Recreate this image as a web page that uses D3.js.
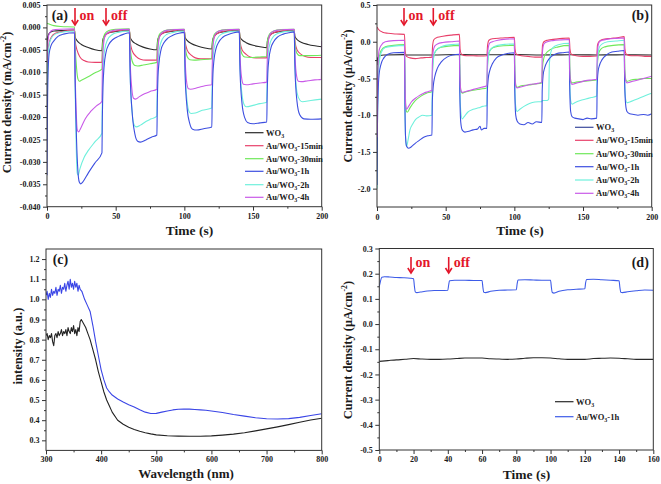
<!DOCTYPE html>
<html><head><meta charset="utf-8">
<script src="https://cdn.jsdelivr.net/npm/d3@7"></script>
<style>body{margin:0;background:#fff}svg{display:block}text{font-family:"Liberation Serif","Times New Roman",serif;font-weight:bold;fill:#1a1a1a}</style>
</head><body><svg id="c" width="661" height="484"></svg>
<script>
// ---------- Panel (a) data: time (s), current density (mA/cm^-2)
const aXTicks = [0, 50, 100, 150, 200];
const aYTicks = [0.005, 0, -0.005, -0.010, -0.015, -0.020, -0.025, -0.030, -0.035, -0.040];
const aNames = ["WO3", "Au/WO3-15min", "Au/WO3-30min", "Au/WO3-1h", "Au/WO3-2h", "Au/WO3-4h"];
const aWO3 = [[0,-0.0045],[0.5,-0.0022],[2,-0.0012],[5,-0.0008],[12,-0.0007],[20,-0.0006],
[20.5,-0.0022],[22,-0.003],[25,-0.0038],[30,-0.0045],[35,-0.005],[40,-0.0052],
[40.5,-0.003],[42,-0.0018],[45,-0.0012],[50,-0.0009],[60,-0.0007],
[60.5,-0.0022],[62,-0.003],[65,-0.0037],[70,-0.0044],[75,-0.0048],[80,-0.005],
[80.5,-0.003],[82,-0.0018],[85,-0.0012],[90,-0.0009],[100,-0.0007],
[100.5,-0.0022],[102,-0.0029],[105,-0.0036],[110,-0.0042],[115,-0.0046],[120,-0.0048],
[120.5,-0.003],[122,-0.0018],[125,-0.0012],[130,-0.0009],[140,-0.0007],
[140.5,-0.0021],[142,-0.0028],[145,-0.0034],[150,-0.004],[155,-0.0043],[160,-0.0045],
[160.5,-0.003],[162,-0.0018],[165,-0.0012],[170,-0.0009],[180,-0.0007],
[180.5,-0.002],[182,-0.0027],[185,-0.0033],[190,-0.0038],[195,-0.0041],[200,-0.0043]];
const a15min = [[0,-0.012],[0.5,-0.006],[2,-0.003],[5,-0.0015],[10,-0.001],[20,-0.0006],
[20.5,-0.003],[22,-0.0052],[24,-0.0066],[27,-0.0074],[30,-0.0077],[35,-0.0078],[40,-0.0078],
[40.5,-0.004],[42,-0.002],[45,-0.0012],[50,-0.0008],[60,-0.0005],
[60.5,-0.003],[62,-0.0052],[65,-0.0065],[68,-0.0071],[72,-0.0073],[80,-0.0073],
[80.5,-0.004],[82,-0.002],[85,-0.0012],[90,-0.0008],[100,-0.0005],
[100.5,-0.003],[102,-0.005],[105,-0.0062],[108,-0.0068],[112,-0.007],[120,-0.007],
[120.5,-0.004],[122,-0.002],[125,-0.0012],[130,-0.0008],[140,-0.0005],
[140.5,-0.003],[142,-0.005],[145,-0.006],[148,-0.0066],[152,-0.0068],[160,-0.0068],
[160.5,-0.004],[162,-0.002],[165,-0.0012],[170,-0.0008],[180,-0.0005],
[180.5,-0.003],[182,-0.005],[185,-0.006],[188,-0.0065],[192,-0.0067],[200,-0.0067]];
const a30min = [[0,0.0009],[1,0.0008],[5,0.0004],[10,0.0002],[20,0.0001],
[20.5,-0.004],[21.5,-0.009],[22.5,-0.0115],[23.5,-0.012],[25,-0.0118],[30,-0.011],[35,-0.0101],[40,-0.0093],
[40.5,-0.004],[42,-0.0015],[45,-0.0007],[50,-0.0004],[60,-0.0003],
[60.5,-0.004],[62,-0.0075],[64,-0.0085],[66,-0.0086],[70,-0.0084],[75,-0.0081],[80,-0.0078],
[80.5,-0.0035],[82,-0.0015],[85,-0.0008],[90,-0.0005],[100,-0.0004],
[100.5,-0.0035],[102,-0.0065],[104,-0.0072],[107,-0.0073],[112,-0.0072],[120,-0.007],
[120.5,-0.0035],[122,-0.0015],[125,-0.0008],[130,-0.0005],[140,-0.0004],
[140.5,-0.0035],[142,-0.006],[144,-0.0066],[148,-0.0067],[155,-0.0066],[160,-0.0065],
[160.5,-0.003],[162,-0.0015],[165,-0.0008],[170,-0.0005],[180,-0.0004],
[180.5,-0.0035],[182,-0.0058],[184,-0.0063],[190,-0.0063],[200,-0.0062]];
const a1h = [[0,-0.033],[0.3,-0.02],[0.8,-0.01],[1.5,-0.006],[3,-0.004],[5,-0.003],[8,-0.002],[12,-0.0015],[20,-0.0012],
[20.5,-0.012],[21.5,-0.025],[22.5,-0.032],[23.5,-0.0345],[24.5,-0.0349],[26,-0.0345],[30,-0.0325],[35,-0.0302],[40,-0.028],
[40.3,-0.02],[40.8,-0.013],[41.5,-0.009],[43,-0.0055],[45,-0.0038],[48,-0.0027],[52,-0.002],[56,-0.0015],[60,-0.0012],
[60.5,-0.01],[62,-0.019],[64,-0.0238],[66,-0.0254],[68,-0.0256],[72,-0.0251],[76,-0.0245],[80,-0.024],
[80.3,-0.017],[80.8,-0.011],[81.5,-0.008],[83,-0.005],[85,-0.0035],[88,-0.0024],[92,-0.0017],[96,-0.0013],[100,-0.0011],
[100.5,-0.01],[102,-0.018],[104,-0.0215],[106,-0.0227],[109,-0.0229],[114,-0.0226],[120,-0.0222],
[120.3,-0.016],[120.8,-0.0105],[121.5,-0.0075],[123,-0.0048],[125,-0.0033],[128,-0.0022],[132,-0.0016],[136,-0.0012],[140,-0.001],
[140.5,-0.0095],[142,-0.017],[144,-0.0202],[146,-0.0212],[150,-0.0215],[155,-0.0213],[160,-0.0211],
[160.3,-0.015],[160.8,-0.01],[161.5,-0.0072],[163,-0.0046],[165,-0.0032],[168,-0.0021],[172,-0.0015],[176,-0.0012],[180,-0.001],
[180.5,-0.009],[182,-0.0165],[184,-0.0195],[187,-0.0204],[192,-0.0205],[200,-0.0204]];
const a2h = [[0,-0.02],[0.5,-0.008],[1.5,-0.004],[3,-0.0025],[6,-0.0015],[12,-0.001],[20,-0.0008],
[20.5,-0.014],[21.3,-0.027],[22,-0.0325],[22.7,-0.033],[24,-0.0315],[27,-0.029],[30,-0.0275],[35,-0.0255],[40,-0.0236],
[40.3,-0.015],[41,-0.008],[42,-0.005],[44,-0.0028],[47,-0.0017],[52,-0.0011],[60,-0.0008],
[60.5,-0.01],[62,-0.019],[63.5,-0.0218],[65,-0.0222],[68,-0.0218],[72,-0.021],[76,-0.0204],[80,-0.0198],
[80.3,-0.013],[81,-0.007],[82,-0.0045],[84,-0.0026],[87,-0.0016],[92,-0.0011],[100,-0.0008],
[100.5,-0.009],[102,-0.0165],[103.5,-0.0188],[105,-0.0192],[108,-0.0191],[113,-0.0185],[120,-0.018],
[120.3,-0.012],[121,-0.0065],[122,-0.0042],[124,-0.0025],[127,-0.0015],[132,-0.001],[140,-0.0008],
[140.5,-0.0085],[142,-0.015],[143.5,-0.0172],[145,-0.0177],[150,-0.0174],[155,-0.017],[160,-0.0167],
[160.3,-0.011],[161,-0.006],[162,-0.004],[164,-0.0024],[167,-0.0015],[172,-0.001],[180,-0.0008],
[180.5,-0.008],[182,-0.0145],[184,-0.0162],[186,-0.0166],[192,-0.0163],[200,-0.016]];
const a4h = [[0,-0.008],[0.5,-0.004],[1.5,-0.0015],[4,-0.0006],[10,-0.0004],[20,-0.0003],
[20.5,-0.01],[21.3,-0.019],[22,-0.0228],[23,-0.0233],[25,-0.0222],[28,-0.0203],[32,-0.0187],[36,-0.0175],[40,-0.0165],
[40.3,-0.01],[41,-0.0045],[42,-0.0022],[44,-0.0012],[48,-0.0007],[53,-0.0005],[60,-0.0004],
[60.5,-0.007],[61.8,-0.0138],[63,-0.0158],[64.5,-0.016],[67,-0.0155],[71,-0.0148],[75,-0.0143],[80,-0.0138],
[80.3,-0.009],[81,-0.004],[82,-0.002],[84,-0.0011],[88,-0.0006],[93,-0.0005],[100,-0.0004],
[100.5,-0.0065],[101.8,-0.0125],[103,-0.0137],[104.5,-0.0138],[110,-0.0134],[115,-0.013],[120,-0.0128],
[120.3,-0.0085],[121,-0.0038],[122,-0.0019],[124,-0.001],[128,-0.0006],[133,-0.0005],[140,-0.0004],
[140.5,-0.006],[141.8,-0.0115],[143,-0.0127],[145,-0.0128],[150,-0.0126],[155,-0.0124],[160,-0.0122],
[160.3,-0.008],[161,-0.0036],[162,-0.0018],[164,-0.001],[168,-0.0006],[173,-0.0005],[180,-0.0004],
[180.5,-0.006],[181.8,-0.011],[183,-0.012],[185,-0.0121],[190,-0.0119],[195,-0.0117],[199.7,-0.0116],[200,-0.003]];

// ---------- Panel (b) data: time (s), current density (uA/cm^-2)
const bXTicks = [0, 50, 100, 150, 200];
const bYTicks = [0.5, 0.0, -0.5, -1.0, -1.5, -2.0];
const bWO3 = [[0,-0.32],[0.5,-0.22],[2,-0.19],[5,-0.18],[20,-0.175],[20.5,-0.18],[40,-0.18],[60,-0.175],[80,-0.178],[100,-0.175],[120,-0.18],[140,-0.178],[160,-0.18],[180,-0.178],[200,-0.18]];
const b15min = [[0,0.2],[1,0.17],[4,0.13],[8,0.115],[14,0.105],[20,0.1],
[20.5,-0.12],[21.5,-0.2],[24,-0.22],[28,-0.23],[32,-0.22],[36,-0.215],[40,-0.21],
[40.5,-0.05],[41.5,0.03],[44,0.06],[48,0.075],[54,0.09],[60,0.1],
[60.5,-0.1],[61.5,-0.17],[65,-0.19],[70,-0.19],[75,-0.195],[80,-0.19],
[80.5,-0.05],[81.5,0.02],[84,0.04],[90,0.05],[95,0.055],[100,0.06],
[100.5,-0.1],[101.5,-0.17],[105,-0.19],[110,-0.2],[115,-0.21],[120,-0.21],
[120.5,-0.05],[121.5,0.0],[124,0.02],[130,0.035],[135,0.045],[140,0.05],
[140.5,-0.1],[141.5,-0.17],[145,-0.19],[150,-0.2],[155,-0.2],[160,-0.195],
[160.5,-0.05],[161.5,0.0],[164,0.03],[170,0.045],[175,0.055],[180,0.07],
[180.5,-0.1],[181.5,-0.17],[185,-0.19],[190,-0.19],[195,-0.2],[200,-0.2]];
const b30min = [[0,-0.85],[0.5,-0.5],[1.5,-0.25],[3,-0.12],[6,-0.07],[12,-0.05],[20,-0.04],
[20.5,-0.6],[21.2,-0.93],[22,-0.96],[24,-0.9],[28,-0.8],[32,-0.74],[36,-0.7],[40,-0.68],
[40.5,-0.35],[41.5,-0.18],[43,-0.12],[46,-0.08],[52,-0.06],[60,-0.05],
[60.5,-0.5],[61.2,-0.68],[62,-0.7],[65,-0.68],[70,-0.66],[75,-0.645],[80,-0.63],
[80.5,-0.3],[81.5,-0.15],[83,-0.1],[86,-0.07],[92,-0.055],[100,-0.05],
[100.5,-0.45],[101.2,-0.6],[102,-0.62],[105,-0.6],[110,-0.59],[115,-0.575],[120,-0.56],
[120.5,-0.35],[121.5,-0.22],[123,-0.16],[126,-0.11],[132,-0.07],[140,-0.05],
[140.5,-0.4],[141.2,-0.54],[142,-0.56],[145,-0.55],[150,-0.54],[155,-0.53],[160,-0.52],
[160.5,-0.3],[161.5,-0.15],[163,-0.1],[166,-0.07],[172,-0.05],[180,-0.04],
[180.5,-0.4],[181.2,-0.52],[182,-0.54],[185,-0.52],[190,-0.51],[195,-0.5],[200,-0.5]];
const b1h = [[0,-1.95],[0.3,-1.2],[0.8,-0.7],[1.5,-0.45],[3,-0.3],[5,-0.22],[8,-0.17],[12,-0.15],[20,-0.145],
[20.3,-0.8],[20.8,-1.3],[21.5,-1.42],[23,-1.45],[25,-1.43],[28,-1.38],[31,-1.34],[34,-1.3],[37,-1.28],[40,-1.27],
[40.3,-0.8],[41,-0.6],[42,-0.48],[44,-0.36],[47,-0.27],[51,-0.21],[55,-0.18],[60,-0.17],
[60.3,-0.7],[61,-1.1],[62,-1.2],[64,-1.23],[67,-1.22],[70,-1.2],[73,-1.19],[75,-1.15],[76,-1.2],[78,-1.18],[80,-1.18],
[80.3,-0.7],[81,-0.5],[82,-0.4],[84,-0.3],[87,-0.22],[91,-0.18],[95,-0.16],[100,-0.15],
[100.3,-0.65],[101,-1.0],[102,-1.08],[104,-1.12],[107,-1.13],[110,-1.1],[113,-1.12],[116,-1.09],[120,-1.1],
[120.3,-0.65],[121,-0.45],[122,-0.36],[124,-0.27],[127,-0.2],[131,-0.16],[135,-0.15],[140,-0.14],
[140.3,-0.6],[141,-0.95],[142,-1.02],[144,-1.04],[147,-1.05],[150,-1.06],[153,-1.04],[156,-1.05],[160,-1.04],
[160.3,-0.6],[161,-0.4],[162,-0.32],[164,-0.24],[167,-0.18],[171,-0.14],[175,-0.13],[180,-0.12],
[180.3,-0.55],[181,-0.85],[182,-0.95],[184,-0.98],[187,-0.99],[190,-1.0],[194,-0.99],[197,-1.0],[200,-0.98]];
const b2h = [[0,-2.0],[0.3,-1.2],[0.8,-0.6],[1.5,-0.3],[3,-0.15],[6,-0.08],[12,-0.06],[20,-0.05],
[20.3,-0.8],[20.8,-1.3],[21.5,-1.43],[22.5,-1.35],[24,-1.2],[26,-1.12],[28,-1.06],[31,-1.02],[33,-1.0],[36,-1.01],[40,-1.0],
[40.3,-0.5],[41,-0.25],[42,-0.15],[44,-0.1],[48,-0.06],[54,-0.04],[60,-0.03],
[60.3,-0.6],[61,-0.95],[62,-1.05],[63.5,-1.02],[66,-0.96],[70,-0.92],[74,-0.9],[77,-0.88],[80,-0.87],
[80.3,-0.45],[81,-0.22],[82,-0.13],[84,-0.08],[88,-0.05],[94,-0.035],[100,-0.03],
[100.3,-0.55],[101,-0.88],[102,-0.95],[104,-0.92],[107,-0.88],[111,-0.84],[115,-0.82],[120,-0.815],
[120.3,-0.8],[124,-0.8],[125,-0.78],[125.5,-0.3],[126.5,-0.15],[128,-0.08],[132,-0.04],[140,-0.02],
[140.3,-0.5],[141,-0.8],[142,-0.85],[144,-0.83],[148,-0.8],[152,-0.78],[156,-0.76],[160,-0.74],
[160.3,-0.35],[161,-0.15],[162,-0.07],[164,-0.03],[168,0.0],[174,0.01],[180,0.02],
[180.3,-0.5],[181,-0.78],[182,-0.83],[184,-0.82],[188,-0.79],[192,-0.76],[196,-0.73],[200,-0.7]];
const b4h = [[0,-1.3],[0.3,-0.7],[0.8,-0.3],[1.5,-0.12],[3,-0.05],[6,0.0],[12,0.015],[20,0.02],
[20.3,-0.5],[20.8,-0.85],[21.5,-0.92],[23,-0.88],[25,-0.82],[28,-0.77],[31,-0.73],[34,-0.7],[37,-0.68],[40,-0.66],
[40.3,-0.3],[41,-0.12],[42,-0.06],[44,-0.03],[48,-0.01],[54,0.0],[60,0.01],
[60.3,-0.45],[61,-0.66],[62,-0.69],[64,-0.68],[68,-0.66],[72,-0.64],[76,-0.62],[80,-0.6],
[80.3,-0.25],[81,-0.08],[82,-0.02],[84,0.0],[88,0.02],[94,0.035],[100,0.04],
[100.3,-0.4],[101,-0.6],[102,-0.63],[104,-0.62],[108,-0.6],[112,-0.58],[116,-0.57],[120,-0.55],
[120.3,-0.2],[121,-0.06],[122,-0.02],[124,0.0],[128,0.015],[134,0.025],[140,0.03],
[140.3,-0.38],[141,-0.55],[142,-0.58],[144,-0.57],[148,-0.55],[152,-0.53],[156,-0.52],[160,-0.51],
[160.3,-0.2],[161,-0.05],[162,0.0],[164,0.02],[168,0.035],[174,0.045],[180,0.05],
[180.3,-0.38],[181,-0.53],[182,-0.56],[184,-0.55],[188,-0.53],[192,-0.51],[196,-0.49],[200,-0.47]];

// ---------- Panel (c) data: wavelength (nm), intensity (a.u.)
const cXTicks = [300, 400, 500, 600, 700, 800];
const cYTicks = [0.3, 0.4, 0.5, 0.6, 0.7, 0.8, 0.9, 1.0, 1.1, 1.2];
const cAu1h = [[300,1.02],[302,1.04],[304,1.0],[306,1.03],[308,1.01],[310,1.05],[312,1.02],[314,1.04],[316,1.03],[318,1.06],[320,1.02],[322,1.05],[324,1.04],[326,1.07],[328,1.03],[330,1.06],[332,1.05],[334,1.08],[336,1.04],[338,1.07],[340,1.09],[342,1.05],[344,1.1],[346,1.06],[348,1.08],[350,1.05],[352,1.09],[354,1.06],[356,1.08],[358,1.04],[360,1.07],[362,1.05],[365,1.04],[370,1.0],[375,0.97],[380,0.94],[385,0.87],[390,0.79],[395,0.72],[400,0.65],[405,0.6],[410,0.56],[415,0.54],[420,0.525],[430,0.505],[440,0.49],[450,0.477],[460,0.465],[470,0.452],[480,0.44],[490,0.433],[500,0.434],[510,0.44],[520,0.446],[530,0.451],[540,0.454],[550,0.455],[560,0.455],[570,0.453],[580,0.451],[590,0.449],[600,0.446],[620,0.438],[640,0.428],[660,0.42],[680,0.412],[700,0.407],[720,0.406],[740,0.408],[760,0.414],[780,0.423],[800,0.432]];
const cWO3 = [[300,0.82],[302,0.83],[304,0.8],[306,0.82],[308,0.81],[310,0.83],[312,0.79],[314,0.77],[316,0.82],[318,0.83],[320,0.81],[322,0.84],[324,0.82],[326,0.83],[328,0.85],[330,0.82],[332,0.84],[334,0.83],[336,0.85],[338,0.82],[340,0.86],[342,0.84],[344,0.83],[346,0.86],[348,0.84],[350,0.87],[352,0.83],[354,0.85],[356,0.82],[358,0.86],[360,0.84],[362,0.89],[364,0.9],[366,0.89],[368,0.88],[372,0.86],[376,0.83],[380,0.8],[385,0.75],[390,0.7],[395,0.64],[400,0.59],[405,0.54],[410,0.5],[415,0.47],[420,0.44],[430,0.4],[440,0.38],[450,0.365],[460,0.354],[470,0.345],[480,0.338],[490,0.332],[500,0.327],[520,0.323],[540,0.321],[560,0.32],[580,0.32],[600,0.322],[620,0.326],[640,0.331],[660,0.338],[680,0.347],[700,0.357],[720,0.367],[740,0.378],[760,0.39],[780,0.401],[800,0.41]];

// ---------- Panel (d) data: time (s), current density (uA/cm^-2)
const dXTicks = [0, 20, 40, 60, 80, 100, 120, 140, 160];
const dYTicks = [0.3, 0.2, 0.1, 0.0, -0.1, -0.2, -0.3, -0.4, -0.5];
const dWO3 = [[0,-0.148],[5,-0.145],[10,-0.142],[15,-0.14],[20,-0.137],[25,-0.139],[30,-0.14],[35,-0.14],[40,-0.139],[45,-0.137],[50,-0.135],[55,-0.135],[60,-0.135],[65,-0.138],[70,-0.139],[75,-0.14],[80,-0.139],[85,-0.136],[90,-0.134],[95,-0.134],[100,-0.135],[105,-0.138],[110,-0.14],[115,-0.14],[120,-0.14],[125,-0.137],[130,-0.136],[135,-0.135],[140,-0.136],[145,-0.138],[150,-0.14],[155,-0.14],[160,-0.14]];
const dAu1h = [[0,0.15],[0.5,0.165],[1.5,0.186],[3,0.188],[6,0.187],[10,0.185],[14,0.184],[18,0.182],[20,0.18],
[20.5,0.15],[21,0.128],[22,0.125],[24,0.127],[28,0.131],[32,0.133],[36,0.133],[40,0.134],
[40.5,0.155],[41,0.172],[44,0.174],[50,0.174],[55,0.173],[60,0.173],
[60.5,0.145],[61,0.126],[62,0.125],[65,0.13],[70,0.134],[75,0.135],[80,0.136],
[80.5,0.16],[81,0.175],[85,0.176],[90,0.175],[95,0.174],[100,0.174],
[100.5,0.145],[101,0.125],[102,0.123],[105,0.13],[110,0.136],[115,0.138],[120,0.14],
[120.5,0.165],[121,0.177],[125,0.178],[130,0.176],[135,0.174],[140,0.172],
[140.5,0.145],[141,0.126],[142,0.125],[145,0.128],[150,0.132],[155,0.135],[160,0.134]];

// ---------- drawing
const svg = d3.select("#c");
const col = {blk:"#2a2a2a", red:"#e8406a", grn:"#6fe85a", blu:"#3d4fe0", cyn:"#6ff0dc", mag:"#c95ae8"};
const red = "#e3172b";
const fmt = p => v => d3.format(p)(v).replace("\u2212", "-");
let clipId = 0;

function mids(arr){ const m=[]; for(let i=0;i<arr.length-1;i++) m.push((arr[i]+arr[i+1])/2); return m; }

function panel(o){
  const g = svg.append("g");
  const x = d3.scaleLinear().domain(o.xd).range([o.l, o.r]);
  const y = d3.scaleLinear().domain(o.yd).range([o.b, o.t]);
  const styleAxis = s => { s.select(".domain").remove(); s.selectAll("line").attr("stroke","#333"); s.selectAll("text").style("font-size","8px").attr("fill","#1a1a1a"); };
  g.append("g").attr("transform",`translate(0,${o.b})`).call(d3.axisBottom(x).tickValues(mids(o.xt)).tickSize(2).tickFormat("")).call(styleAxis);
  g.append("g").attr("transform",`translate(${o.l},0)`).call(d3.axisLeft(y).tickValues(mids(o.yt)).tickSize(2).tickFormat("")).call(styleAxis);
  g.append("g").attr("transform",`translate(0,${o.b})`).call(d3.axisBottom(x).tickValues(o.xt).tickSize(4).tickPadding(o.xpad || 3).tickFormat(o.xf)).call(styleAxis);
  g.append("g").attr("transform",`translate(${o.l},0)`).call(d3.axisLeft(y).tickValues(o.yt).tickSize(4).tickPadding(2.5).tickFormat(o.yf)).call(styleAxis);
  const id = "clip" + (clipId++);
  g.append("clipPath").attr("id", id).append("rect").attr("x",o.l).attr("y",o.t).attr("width",o.r-o.l).attr("height",o.b-o.t);
  const line = d3.line().x(d=>x(d[0])).y(d=>y(d[1])).curve(o.curve);
  const lg = g.append("g").attr("clip-path",`url(#${id})`);
  o.series.forEach(s => lg.append("path").datum(s.data).attr("d", line).attr("fill","none").attr("stroke", s.color).attr("stroke-width",1.1).attr("stroke-linejoin","round"));
  g.append("rect").attr("x",o.l).attr("y",o.t).attr("width",o.r-o.l).attr("height",o.b-o.t).attr("fill","none").attr("stroke","#333").attr("stroke-width",1);
  return g;
}

function ytitle(x, y, size, unit){
  const t = svg.append("text").attr("transform",`translate(${x},${y}) rotate(-90)`).attr("text-anchor","middle").style("font-size",size+"px");
  t.append("tspan").text("Current density (" + unit + "/cm");
  t.append("tspan").attr("dy",-size*0.38).style("font-size",(size*0.62)+"px").text("-2");
  t.append("tspan").attr("dy",size*0.38).text(")");
}
function xtitle(x, y, txt, size){ svg.append("text").attr("x",x).attr("y",y).attr("text-anchor","middle").style("font-size",(size||13.5)+"px").text(txt); }
function label(x, y, txt){ svg.append("text").attr("x",x).attr("y",y).style("font-size","14px").text(txt); }
function arrow(x, y1, y2){
  svg.append("line").attr("x1",x).attr("x2",x).attr("y1",y1).attr("y2",y2-0.5).attr("stroke",red).attr("stroke-width",1.6);
  svg.append("path").attr("d",`M${x-3.2},${y2-5}L${x},${y2}L${x+3.2},${y2-5}`).attr("fill","none").attr("stroke",red).attr("stroke-width",1.6);
}
function onoff(xa1, xa2, ya1, ya2, base){
  arrow(xa1, ya1, ya2); arrow(xa2, ya1, ya2);
  svg.append("text").attr("x",xa1+4.5).attr("y",base).style("font-size","14px").style("fill",red).text("on");
  svg.append("text").attr("x",xa2+5).attr("y",base).style("font-size","14px").style("fill",red).text("off");
}
function legend(xl, rows, names, colors){
  rows.forEach((ry,i) => {
    svg.append("line").attr("x1",xl).attr("x2",xl+18.5).attr("y1",ry).attr("y2",ry).attr("stroke",colors[i]).attr("stroke-width",1.2);
    const t = svg.append("text").attr("x",xl+21).attr("y",ry+3).style("font-size","8.5px");
    const nm = names[i]; const k = nm.indexOf("WO3");
    t.append("tspan").text(nm.slice(0,k+2));
    t.append("tspan").attr("dy",2).style("font-size","6px").text("3");
    if (k+3 < nm.length) t.append("tspan").attr("dy",-2).text(nm.slice(k+3));
  });
}

// Panel (a)
const aCols = [col.blk, col.red, col.grn, col.blu, col.cyn, col.mag];
panel({l:47, r:321.7, t:5, b:206.7, xd:[0,200], yd:[-0.04,0.005], xt:aXTicks, yt:aYTicks, xf:d3.format("d"), yf:fmt(".3f"), curve:d3.curveMonotoneX,
  series:[{data:aWO3,color:aCols[0]},{data:a15min,color:aCols[1]},{data:a30min,color:aCols[2]},{data:a2h,color:aCols[4]},{data:a4h,color:aCols[5]},{data:a1h,color:aCols[3]}]});
ytitle(11, 102.5, 12.5, "mA");
xtitle(189.5, 235, "Time (s)");
label(51.7, 19.5, "(a)");
onoff(75, 106, 8, 25, 20);
legend(245, [132.7,145.7,158.7,171.3,184.7,197.3], aNames, aCols);

// Panel (b)
const bCols = [col.blk, col.red, col.grn, col.blu, col.cyn, col.mag];
panel({l:377, r:651.7, t:5, b:207, xd:[0,200], yd:[-2.25,0.5], xt:bXTicks, yt:bYTicks, xf:d3.format("d"), yf:fmt(".1f"), curve:d3.curveMonotoneX,
  series:[{data:bWO3,color:bCols[0]},{data:b15min,color:bCols[1]},{data:b30min,color:bCols[2]},{data:b2h,color:bCols[4]},{data:b1h,color:bCols[3]},{data:b4h,color:bCols[5]}]});
ytitle(352, 96, 12, "\u03bcA");
xtitle(520, 235, "Time (s)");
label(631.7, 19.5, "(b)");
onoff(404, 433.3, 8, 25, 20);
legend(575, [127.3,140.3,153.7,166.7,180,193.3], aNames, ["#3b4a9c", bCols[1], bCols[2], bCols[3], bCols[4], bCols[5]]);

// Panel (c)
panel({l:46, r:321.7, t:249, b:450.4, xd:[300,800], yd:[0.25,1.25], xt:cXTicks, yt:cYTicks, xf:d3.format("d"), yf:fmt(".1f"), curve:d3.curveLinear, xpad:2,
  series:[{data:cWO3,color:"#222"},{data:cAu1h,color:"#3a45e6"}]});
svg.append("text").attr("transform","translate(22,346) rotate(-90)").attr("text-anchor","middle").style("font-size","12.5px").text("intensity (a.u.)");
xtitle(186, 478, "Wavelength (nm)", 13);
label(52.7, 263.5, "(c)");

// Panel (d)
panel({l:379.3, r:653.3, t:248.5, b:450, xd:[0,160], yd:[-0.5,0.3], xt:dXTicks, yt:dYTicks, xf:d3.format("d"), yf:fmt(".1f"), curve:d3.curveMonotoneX, xpad:2,
  series:[{data:dWO3,color:"#2a2a2a"},{data:dAu1h,color:"#3d5be8"}]});
ytitle(352, 350, 12.5, "\u03bcA");
xtitle(526.5, 479, "Time (s)");
label(631.7, 267, "(d)");
onoff(411, 448.7, 257, 273, 267);
legend(555, [401.7,416.7], ["WO3","Au/WO3-1h"], ["#2a2a2a","#3d5be8"]);
</script></body></html>
